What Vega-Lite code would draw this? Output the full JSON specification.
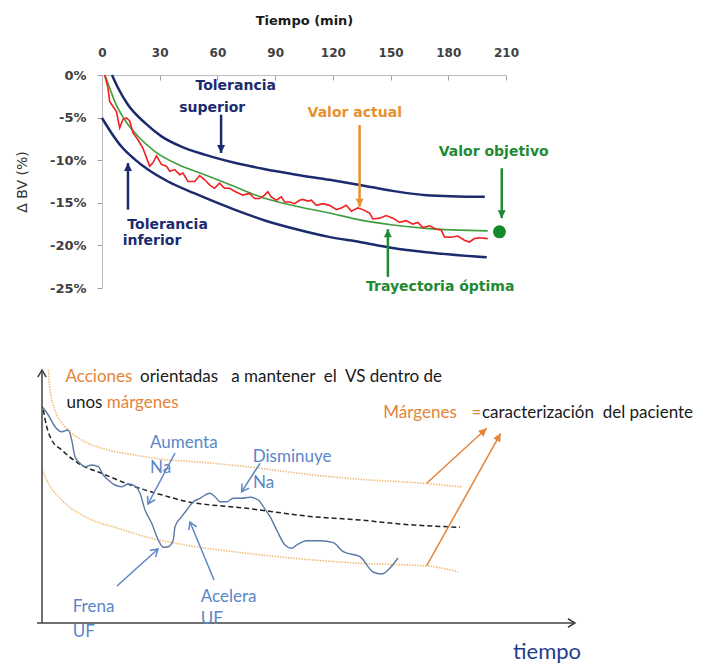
{
  "$schema": "https://vega.github.io/schema/vega-lite/v6.json",
  "background": "white",
  "padding": {"left": 15, "top": 14, "right": 0, "bottom": 0},
  "spacing": 71,
  "config": {"view": {"stroke": null}},
  "resolve": {"scale": {"color": "independent", "shape": "independent"}},
  "datasets": {
    "curvas": [
      {"serie": "Tolerancia superior", "t": 5.2, "v": 0},
      {"serie": "Tolerancia superior", "t": 8.3, "v": -1.5},
      {"serie": "Tolerancia superior", "t": 13.5, "v": -3.5},
      {"serie": "Tolerancia superior", "t": 22.2, "v": -5.6},
      {"serie": "Tolerancia superior", "t": 30.9, "v": -7.2},
      {"serie": "Tolerancia superior", "t": 41.2, "v": -8.4},
      {"serie": "Tolerancia superior", "t": 53.4, "v": -9.35},
      {"serie": "Tolerancia superior", "t": 68.9, "v": -10.3},
      {"serie": "Tolerancia superior", "t": 83.6, "v": -11.0},
      {"serie": "Tolerancia superior", "t": 101, "v": -11.7},
      {"serie": "Tolerancia superior", "t": 118.3, "v": -12.3},
      {"serie": "Tolerancia superior", "t": 134, "v": -12.9},
      {"serie": "Tolerancia superior", "t": 151, "v": -13.6},
      {"serie": "Tolerancia superior", "t": 168.5, "v": -14.1},
      {"serie": "Tolerancia superior", "t": 199, "v": -14.3},
      {"serie": "Tolerancia inferior", "t": 0, "v": -5.05},
      {"serie": "Tolerancia inferior", "t": 4.9, "v": -6.8},
      {"serie": "Tolerancia inferior", "t": 10.1, "v": -8.4},
      {"serie": "Tolerancia inferior", "t": 17, "v": -9.9},
      {"serie": "Tolerancia inferior", "t": 23.9, "v": -11.1},
      {"serie": "Tolerancia inferior", "t": 34.3, "v": -12.5},
      {"serie": "Tolerancia inferior", "t": 48.2, "v": -13.9},
      {"serie": "Tolerancia inferior", "t": 68.9, "v": -15.8},
      {"serie": "Tolerancia inferior", "t": 85, "v": -17.1},
      {"serie": "Tolerancia inferior", "t": 101, "v": -18.1},
      {"serie": "Tolerancia inferior", "t": 118, "v": -19.0},
      {"serie": "Tolerancia inferior", "t": 134, "v": -19.6},
      {"serie": "Tolerancia inferior", "t": 151, "v": -20.3},
      {"serie": "Tolerancia inferior", "t": 168.5, "v": -20.8},
      {"serie": "Tolerancia inferior", "t": 200, "v": -21.4},
      {"serie": "Trayectoria óptima", "t": 1.5, "v": 0},
      {"serie": "Trayectoria óptima", "t": 4.0, "v": -1.53},
      {"serie": "Trayectoria óptima", "t": 6.6, "v": -3.09},
      {"serie": "Trayectoria óptima", "t": 11.8, "v": -5.25},
      {"serie": "Trayectoria óptima", "t": 18.7, "v": -7.19},
      {"serie": "Trayectoria óptima", "t": 27.4, "v": -8.96},
      {"serie": "Trayectoria óptima", "t": 39.5, "v": -10.5},
      {"serie": "Trayectoria óptima", "t": 53.4, "v": -11.7},
      {"serie": "Trayectoria óptima", "t": 68.9, "v": -13.1},
      {"serie": "Trayectoria óptima", "t": 83.6, "v": -14.4},
      {"serie": "Trayectoria óptima", "t": 101, "v": -15.4},
      {"serie": "Trayectoria óptima", "t": 118.3, "v": -16.2},
      {"serie": "Trayectoria óptima", "t": 133.9, "v": -17.0},
      {"serie": "Trayectoria óptima", "t": 151.2, "v": -17.6},
      {"serie": "Trayectoria óptima", "t": 168.5, "v": -18.0},
      {"serie": "Trayectoria óptima", "t": 200.5, "v": -18.3},
      {"serie": "Valor actual", "t": 1.4, "v": 0},
      {"serie": "Valor actual", "t": 3.1, "v": -1.5},
      {"serie": "Valor actual", "t": 4.0, "v": -3.1},
      {"serie": "Valor actual", "t": 5.7, "v": -3.7},
      {"serie": "Valor actual", "t": 7.5, "v": -4.3},
      {"serie": "Valor actual", "t": 9.2, "v": -6.2},
      {"serie": "Valor actual", "t": 10.9, "v": -5.2},
      {"serie": "Valor actual", "t": 12.7, "v": -5.05},
      {"serie": "Valor actual", "t": 14.4, "v": -5.4},
      {"serie": "Valor actual", "t": 16.1, "v": -6.8},
      {"serie": "Valor actual", "t": 18.7, "v": -7.6},
      {"serie": "Valor actual", "t": 21.3, "v": -8.6},
      {"serie": "Valor actual", "t": 23.1, "v": -9.7},
      {"serie": "Valor actual", "t": 24.8, "v": -10.7},
      {"serie": "Valor actual", "t": 26.5, "v": -10.3},
      {"serie": "Valor actual", "t": 28.3, "v": -9.5},
      {"serie": "Valor actual", "t": 30.9, "v": -10.5},
      {"serie": "Valor actual", "t": 33.5, "v": -10.7},
      {"serie": "Valor actual", "t": 35.2, "v": -11.3},
      {"serie": "Valor actual", "t": 37.8, "v": -11.1},
      {"serie": "Valor actual", "t": 40.4, "v": -11.7},
      {"serie": "Valor actual", "t": 42.1, "v": -11.5},
      {"serie": "Valor actual", "t": 44.7, "v": -12.5},
      {"serie": "Valor actual", "t": 48.2, "v": -12.5},
      {"serie": "Valor actual", "t": 50.8, "v": -11.8},
      {"serie": "Valor actual", "t": 53.4, "v": -12.3},
      {"serie": "Valor actual", "t": 55.9, "v": -12.9},
      {"serie": "Valor actual", "t": 58.5, "v": -13.3},
      {"serie": "Valor actual", "t": 61.1, "v": -12.7},
      {"serie": "Valor actual", "t": 63.7, "v": -13.3},
      {"serie": "Valor actual", "t": 66.3, "v": -13.3},
      {"serie": "Valor actual", "t": 68.9, "v": -13.65},
      {"serie": "Valor actual", "t": 73.2, "v": -14.1},
      {"serie": "Valor actual", "t": 76.7, "v": -13.9},
      {"serie": "Valor actual", "t": 79.3, "v": -14.5},
      {"serie": "Valor actual", "t": 81.9, "v": -14.5},
      {"serie": "Valor actual", "t": 84.5, "v": -14.1},
      {"serie": "Valor actual", "t": 86.2, "v": -13.7},
      {"serie": "Valor actual", "t": 88.0, "v": -14.3},
      {"serie": "Valor actual", "t": 90.6, "v": -14.7},
      {"serie": "Valor actual", "t": 93.2, "v": -14.3},
      {"serie": "Valor actual", "t": 94.9, "v": -14.9},
      {"serie": "Valor actual", "t": 97.5, "v": -14.9},
      {"serie": "Valor actual", "t": 100.1, "v": -15.1},
      {"serie": "Valor actual", "t": 102.7, "v": -14.7},
      {"serie": "Valor actual", "t": 104.4, "v": -14.6},
      {"serie": "Valor actual", "t": 107.0, "v": -14.8},
      {"serie": "Valor actual", "t": 108.8, "v": -14.7},
      {"serie": "Valor actual", "t": 111.4, "v": -15.3},
      {"serie": "Valor actual", "t": 114.8, "v": -15.1},
      {"serie": "Valor actual", "t": 118.3, "v": -15.3},
      {"serie": "Valor actual", "t": 121.8, "v": -15.8},
      {"serie": "Valor actual", "t": 124.4, "v": -15.6},
      {"serie": "Valor actual", "t": 127.0, "v": -15.3},
      {"serie": "Valor actual", "t": 129.6, "v": -16.0},
      {"serie": "Valor actual", "t": 133.0, "v": -15.6},
      {"serie": "Valor actual", "t": 135.6, "v": -15.8},
      {"serie": "Valor actual", "t": 139.1, "v": -16.2},
      {"serie": "Valor actual", "t": 140.8, "v": -16.9},
      {"serie": "Valor actual", "t": 144.3, "v": -16.8},
      {"serie": "Valor actual", "t": 147.7, "v": -16.5},
      {"serie": "Valor actual", "t": 151.2, "v": -16.8},
      {"serie": "Valor actual", "t": 154.7, "v": -17.3},
      {"serie": "Valor actual", "t": 158.1, "v": -17.1},
      {"serie": "Valor actual", "t": 161.6, "v": -17.5},
      {"serie": "Valor actual", "t": 164.2, "v": -17.3},
      {"serie": "Valor actual", "t": 166.8, "v": -17.9},
      {"serie": "Valor actual", "t": 170.3, "v": -17.7},
      {"serie": "Valor actual", "t": 173.7, "v": -18.1},
      {"serie": "Valor actual", "t": 176.3, "v": -18.2},
      {"serie": "Valor actual", "t": 178.0, "v": -19.0},
      {"serie": "Valor actual", "t": 181.5, "v": -19.05},
      {"serie": "Valor actual", "t": 184.9, "v": -18.9},
      {"serie": "Valor actual", "t": 188.4, "v": -19.4},
      {"serie": "Valor actual", "t": 191.0, "v": -19.6},
      {"serie": "Valor actual", "t": 193.6, "v": -19.2},
      {"serie": "Valor actual", "t": 196.2, "v": -19.1},
      {"serie": "Valor actual", "t": 200.5, "v": -19.2}
    ],
    "notas": [
      {"texto": "Tolerancia", "t": 69.5, "v": -1.33, "grupo": "tolerancia"},
      {"texto": "superior", "t": 57.3, "v": -3.87, "grupo": "tolerancia"},
      {"texto": "Tolerancia", "t": 34.1, "v": -17.6, "grupo": "tolerancia"},
      {"texto": "inferior", "t": 26.0, "v": -19.5, "grupo": "tolerancia"},
      {"texto": "Valor actual", "t": 131.4, "v": -4.5, "grupo": "actual"},
      {"texto": "Valor objetivo", "t": 203.6, "v": -9.0, "grupo": "objetivo"},
      {"texto": "Trayectoria óptima", "t": 175.8, "v": -24.85, "grupo": "objetivo"}
    ],
    "flechas": [
      {"grupo": "tolerancia", "dir": "abajo", "t": 61.9, "v": -4.66, "v2": -9.15},
      {"grupo": "tolerancia", "dir": "arriba", "t": 13.5, "v": -15.8, "v2": -10.33},
      {"grupo": "actual", "dir": "abajo", "t": 133.9, "v": -5.87, "v2": -15.46},
      {"grupo": "objetivo", "dir": "abajo", "t": 207.8, "v": -10.95, "v2": -16.8},
      {"grupo": "objetivo", "dir": "arriba", "t": 148.6, "v": -23.7, "v2": -18.1}
    ],
    "objetivo": [{"t": 206.6, "v": -18.4}],
    "bcurvas": [
      {"serie": "Margen superior", "x": 6.3, "y": 253},
      {"serie": "Margen superior", "x": 8, "y": 233},
      {"serie": "Margen superior", "x": 13, "y": 213},
      {"serie": "Margen superior", "x": 23, "y": 196.3},
      {"serie": "Margen superior", "x": 39.7, "y": 183},
      {"serie": "Margen superior", "x": 66.3, "y": 173},
      {"serie": "Margen superior", "x": 93, "y": 168},
      {"serie": "Margen superior", "x": 126.3, "y": 163},
      {"serie": "Margen superior", "x": 143, "y": 162},
      {"serie": "Margen superior", "x": 204.7, "y": 156.3},
      {"serie": "Margen superior", "x": 271.3, "y": 148},
      {"serie": "Margen superior", "x": 318, "y": 143.7},
      {"serie": "Margen superior", "x": 378, "y": 140},
      {"serie": "Margen superior", "x": 419.7, "y": 136},
      {"serie": "Margen inferior", "x": 0.3, "y": 153},
      {"serie": "Margen inferior", "x": 6.3, "y": 139.7},
      {"serie": "Margen inferior", "x": 19.7, "y": 123},
      {"serie": "Margen inferior", "x": 43, "y": 106.3},
      {"serie": "Margen inferior", "x": 76.3, "y": 94.7},
      {"serie": "Margen inferior", "x": 109.7, "y": 84.7},
      {"serie": "Margen inferior", "x": 143, "y": 78},
      {"serie": "Margen inferior", "x": 204.7, "y": 69.7},
      {"serie": "Margen inferior", "x": 271.3, "y": 63},
      {"serie": "Margen inferior", "x": 318, "y": 59.7},
      {"serie": "Margen inferior", "x": 384.7, "y": 57},
      {"serie": "Margen inferior", "x": 416.3, "y": 51.3},
      {"serie": "Trayectoria", "x": 1.3, "y": 213},
      {"serie": "Trayectoria", "x": 4.7, "y": 196.3},
      {"serie": "Trayectoria", "x": 9.7, "y": 183},
      {"serie": "Trayectoria", "x": 19.7, "y": 173},
      {"serie": "Trayectoria", "x": 36.3, "y": 159.7},
      {"serie": "Trayectoria", "x": 59.7, "y": 149.7},
      {"serie": "Trayectoria", "x": 93, "y": 136.3},
      {"serie": "Trayectoria", "x": 126.3, "y": 126.3},
      {"serie": "Trayectoria", "x": 140, "y": 122.5},
      {"serie": "Trayectoria", "x": 204.7, "y": 114.7},
      {"serie": "Trayectoria", "x": 271.3, "y": 106.3},
      {"serie": "Trayectoria", "x": 318, "y": 103},
      {"serie": "Trayectoria", "x": 358, "y": 99},
      {"serie": "Trayectoria", "x": 418, "y": 95.7},
      {"serie": "VS", "x": 0.3, "y": 216.3},
      {"serie": "VS", "x": 6.3, "y": 208},
      {"serie": "VS", "x": 13, "y": 196.3},
      {"serie": "VS", "x": 19.7, "y": 191.3},
      {"serie": "VS", "x": 26.3, "y": 193},
      {"serie": "VS", "x": 29.7, "y": 183},
      {"serie": "VS", "x": 33, "y": 166.3},
      {"serie": "VS", "x": 38, "y": 159.7},
      {"serie": "VS", "x": 43, "y": 156.3},
      {"serie": "VS", "x": 49.7, "y": 158},
      {"serie": "VS", "x": 56.3, "y": 156.3},
      {"serie": "VS", "x": 61.3, "y": 148},
      {"serie": "VS", "x": 66.3, "y": 143},
      {"serie": "VS", "x": 73, "y": 138},
      {"serie": "VS", "x": 79.7, "y": 136.3},
      {"serie": "VS", "x": 86.3, "y": 139},
      {"serie": "VS", "x": 93, "y": 137},
      {"serie": "VS", "x": 98, "y": 129.7},
      {"serie": "VS", "x": 103, "y": 113},
      {"serie": "VS", "x": 109.7, "y": 99.7},
      {"serie": "VS", "x": 116.3, "y": 83},
      {"serie": "VS", "x": 121.3, "y": 75.7},
      {"serie": "VS", "x": 126.3, "y": 76.3},
      {"serie": "VS", "x": 131.3, "y": 83},
      {"serie": "VS", "x": 133, "y": 96.3},
      {"serie": "VS", "x": 139.7, "y": 106.3},
      {"serie": "VS", "x": 144.7, "y": 113},
      {"serie": "VS", "x": 151.3, "y": 121.3},
      {"serie": "VS", "x": 158, "y": 124.7},
      {"serie": "VS", "x": 168, "y": 129.7},
      {"serie": "VS", "x": 173, "y": 126.3},
      {"serie": "VS", "x": 178, "y": 121.3},
      {"serie": "VS", "x": 184.7, "y": 121.3},
      {"serie": "VS", "x": 191.3, "y": 124.7},
      {"serie": "VS", "x": 199.7, "y": 124.7},
      {"serie": "VS", "x": 208, "y": 125.7},
      {"serie": "VS", "x": 216.3, "y": 123},
      {"serie": "VS", "x": 221.3, "y": 116.3},
      {"serie": "VS", "x": 228, "y": 106.3},
      {"serie": "VS", "x": 234.7, "y": 93},
      {"serie": "VS", "x": 243, "y": 78},
      {"serie": "VS", "x": 249.7, "y": 74.7},
      {"serie": "VS", "x": 254.7, "y": 78},
      {"serie": "VS", "x": 264.7, "y": 82.3},
      {"serie": "VS", "x": 278, "y": 82.3},
      {"serie": "VS", "x": 291.3, "y": 80.3},
      {"serie": "VS", "x": 301.3, "y": 71.3},
      {"serie": "VS", "x": 318, "y": 66.3},
      {"serie": "VS", "x": 331, "y": 51},
      {"serie": "VS", "x": 339.7, "y": 49},
      {"serie": "VS", "x": 348, "y": 55},
      {"serie": "VS", "x": 356, "y": 65}
    ],
    "btextos": [
      {"texto": "Acciones", "x": 23.5, "y": 246.3, "grupo": "enfasis"},
      {"texto": "orientadas\u00a0\u00a0\u00a0a mantener\u00a0\u00a0el\u00a0\u00a0VS\u00a0dentro\u00a0de", "x": 98, "y": 246.3, "grupo": "texto"},
      {"texto": "unos", "x": 24.5, "y": 220.3, "grupo": "texto"},
      {"texto": "márgenes", "x": 64.7, "y": 220.3, "grupo": "enfasis"},
      {"texto": "Márgenes", "x": 341.3, "y": 210.3, "grupo": "enfasis"},
      {"texto": "=", "x": 429.5, "y": 210.3, "grupo": "enfasis"},
      {"texto": "caracterización\u00a0\u00a0del\u00a0paciente", "x": 440, "y": 210.3, "grupo": "texto"},
      {"texto": "Aumenta", "x": 108, "y": 179.7, "grupo": "accion"},
      {"texto": "Na", "x": 108, "y": 154.7, "grupo": "accion"},
      {"texto": "Disminuye", "x": 210.7, "y": 165.7, "grupo": "accion"},
      {"texto": "Na", "x": 211, "y": 140.3, "grupo": "accion"},
      {"texto": "Frena", "x": 30.7, "y": 16.3, "grupo": "accion"},
      {"texto": "UF", "x": 30.7, "y": -8.7, "grupo": "accion"},
      {"texto": "Acelera", "x": 158.7, "y": 26.3, "grupo": "accion"},
      {"texto": "UF", "x": 158.7, "y": 3.7, "grupo": "accion"},
      {"texto": "tiempo", "x": 505, "y": -29, "grupo": "tiempo"}
    ],
    "bflechas": [
      {"grupo": "eje", "x": 0, "y": 0, "x2": 0, "y2": 253},
      {"grupo": "eje", "x": -5, "y": 0, "x2": 533, "y2": 0},
      {"grupo": "accion", "x": 133, "y": 170, "x2": 106, "y2": 119},
      {"grupo": "accion", "x": 218, "y": 159.7, "x2": 199.7, "y2": 131.3},
      {"grupo": "accion", "x": 75, "y": 37, "x2": 116, "y2": 74},
      {"grupo": "accion", "x": 172, "y": 43, "x2": 148, "y2": 101},
      {"grupo": "enfasis", "x": 384.7, "y": 139.7, "x2": 444.7, "y2": 194.7},
      {"grupo": "enfasis", "x": 384.7, "y": 57.3, "x2": 458.7, "y2": 189.7}
    ]
  },
  "vconcat": [
    {
      "width": 404,
      "height": 213,
      "layer": [
        {
          "data": {"name": "curvas"},
          "transform": [{"filter": "datum.serie === 'Tolerancia superior' || datum.serie === 'Tolerancia inferior'"}],
          "mark": {"type": "line", "interpolate": "monotone", "strokeWidth": 2.5, "color": "#1c2a6e"},
          "encoding": {
            "x": {
              "field": "t", "type": "quantitative",
              "scale": {"domain": [0, 210], "nice": false, "zero": false},
              "axis": {
                "orient": "top", "title": "Tiempo (min)", "values": [0, 30, 60, 90, 120, 150, 180, 210],
                "grid": false, "domainColor": "#bdbdbd", "tickColor": "#a0a0a0", "tickSize": -5, "labelFlush": false,
                "labelPadding": 21, "labelFont": "DejaVu Sans", "labelFontWeight": "bold", "labelFontSize": 12,
                "labelColor": "#404040", "titleFont": "DejaVu Sans", "titleFontWeight": "bold", "titleFontSize": 13,
                "titleColor": "#1a1a1a", "titlePadding": 19
              }
            },
            "y": {
              "field": "v", "type": "quantitative",
              "scale": {"domain": [-25, 0], "nice": false, "zero": false},
              "axis": {
                "title": "Δ BV (%)", "values": [0, -5, -10, -15, -20, -25], "labelExpr": "datum.value + '%'",
                "grid": false, "domainColor": "#bdbdbd", "tickColor": "#a0a0a0", "tickSize": 5, "labelPadding": 11,
                "labelFlush": false,
                "labelFont": "DejaVu Sans", "labelFontWeight": "bold", "labelFontSize": 13, "labelColor": "#404040",
                "titleFont": "DejaVu Sans", "titleFontWeight": "normal", "titleFontSize": 14, "titleColor": "#333333",
                "titlePadding": 20
              }
            },
            "detail": {"field": "serie", "type": "nominal"}
          }
        },
        {
          "data": {"name": "curvas"},
          "transform": [{"filter": "datum.serie === 'Trayectoria óptima'"}],
          "mark": {"type": "line", "interpolate": "monotone", "strokeWidth": 1.6, "color": "#3f9f3f"},
          "encoding": {
            "x": {"field": "t", "type": "quantitative"},
            "y": {"field": "v", "type": "quantitative"}
          }
        },
        {
          "data": {"name": "curvas"},
          "transform": [{"filter": "datum.serie === 'Valor actual'"}],
          "mark": {"type": "line", "strokeWidth": 1.6, "color": "#f02020"},
          "encoding": {
            "x": {"field": "t", "type": "quantitative"},
            "y": {"field": "v", "type": "quantitative"}
          }
        },
        {
          "data": {"name": "flechas"},
          "mark": {"type": "rule", "strokeWidth": 2.5},
          "encoding": {
            "x": {"field": "t", "type": "quantitative"},
            "y": {"field": "v", "type": "quantitative"},
            "y2": {"field": "v2"},
            "color": {"field": "grupo", "type": "nominal", "scale": {"domain": ["tolerancia", "actual", "objetivo"], "range": ["#1c2a6e", "#e8902f", "#1e8a33"]}, "legend": null}
          }
        },
        {
          "data": {"name": "flechas"},
          "mark": {"type": "point", "filled": true, "opacity": 1, "size": 64},
          "encoding": {
            "x": {"field": "t", "type": "quantitative"},
            "y": {"field": "v2", "type": "quantitative"},
            "shape": {"field": "dir", "type": "nominal", "scale": {"domain": ["abajo", "arriba"], "range": ["M0,0L-1,-2L1,-2Z", "M0,0L-1,2L1,2Z"]}, "legend": null},
            "color": {"field": "grupo", "type": "nominal", "legend": null}
          }
        },
        {
          "data": {"name": "objetivo"},
          "mark": {"type": "point", "filled": true, "opacity": 1, "size": 170, "shape": "circle", "color": "#138a2e"},
          "encoding": {
            "x": {"field": "t", "type": "quantitative"},
            "y": {"field": "v", "type": "quantitative"}
          }
        },
        {
          "data": {"name": "notas"},
          "mark": {"type": "text", "font": "DejaVu Sans", "fontWeight": "bold", "fontSize": 14, "align": "center", "baseline": "middle"},
          "encoding": {
            "x": {"field": "t", "type": "quantitative"},
            "y": {"field": "v", "type": "quantitative"},
            "text": {"field": "texto"},
            "color": {"field": "grupo", "type": "nominal", "legend": null}
          }
        }
      ]
    },
    {
      "width": 475,
      "height": 255,
      "layer": [
        {
          "data": {"name": "bcurvas"},
          "transform": [{"filter": "datum.serie === 'Margen superior' || datum.serie === 'Margen inferior'"}],
          "mark": {"type": "line", "interpolate": "monotone", "strokeWidth": 1.6, "strokeDash": [1.5, 1.2], "color": "#f1be77"},
          "encoding": {
            "x": {"field": "x", "type": "quantitative", "scale": {"domain": [60, 535], "nice": false, "zero": false}, "axis": null},
            "y": {"field": "y", "type": "quantitative", "scale": {"domain": [0, 255], "nice": false, "zero": false}, "axis": null},
            "detail": {"field": "serie", "type": "nominal"}
          }
        },
        {
          "data": {"name": "bcurvas"},
          "transform": [{"filter": "datum.serie === 'Trayectoria'"}],
          "mark": {"type": "line", "interpolate": "monotone", "strokeWidth": 1.5, "strokeDash": [5, 3], "color": "#222222"},
          "encoding": {
            "x": {"field": "x", "type": "quantitative"},
            "y": {"field": "y", "type": "quantitative"}
          }
        },
        {
          "data": {"name": "bcurvas"},
          "transform": [{"filter": "datum.serie === 'VS'"}],
          "mark": {"type": "line", "interpolate": "monotone", "strokeWidth": 1.4, "color": "#5b78a6"},
          "encoding": {
            "x": {"field": "x", "type": "quantitative"},
            "y": {"field": "y", "type": "quantitative"}
          }
        },
        {
          "data": {"name": "bflechas"},
          "mark": {"type": "rule", "strokeWidth": 1.5},
          "encoding": {
            "x": {"field": "x", "type": "quantitative"},
            "y": {"field": "y", "type": "quantitative"},
            "x2": {"field": "x2"},
            "y2": {"field": "y2"},
            "color": {"field": "grupo", "type": "nominal", "scale": {"domain": ["enfasis", "texto", "accion", "eje", "tiempo"], "range": ["#e3843b", "#1a1a1a", "#5a86c8", "#404040", "#1f3d8f"]}, "legend": null}
          }
        },
        {
          "data": {"name": "bflechas"},
          "transform": [
            {"filter": "datum.grupo !== 'enfasis'"},
            {"calculate": "atan2(-(datum.y2 - datum.y), datum.x2 - datum.x) * 180 / PI", "as": "ang"}
          ],
          "mark": {"type": "point", "filled": false, "opacity": 1, "size": 200, "strokeWidth": 1.5, "shape": "M-1,-0.6L0,0L-1,0.6"},
          "encoding": {
            "x": {"field": "x2", "type": "quantitative"},
            "y": {"field": "y2", "type": "quantitative"},
            "angle": {"field": "ang", "type": "quantitative", "scale": null},
            "color": {"field": "grupo", "type": "nominal", "legend": null}
          }
        },
        {
          "data": {"name": "bflechas"},
          "transform": [
            {"filter": "datum.grupo === 'enfasis'"},
            {"calculate": "atan2(-(datum.y2 - datum.y), datum.x2 - datum.x) * 180 / PI", "as": "ang"}
          ],
          "mark": {"type": "point", "filled": true, "opacity": 1, "size": 64, "shape": "M0,0L-2,-1L-2,1Z"},
          "encoding": {
            "x": {"field": "x2", "type": "quantitative"},
            "y": {"field": "y2", "type": "quantitative"},
            "angle": {"field": "ang", "type": "quantitative", "scale": null},
            "color": {"field": "grupo", "type": "nominal", "legend": null}
          }
        },
        {
          "data": {"name": "btextos"},
          "transform": [{"filter": "datum.grupo !== 'tiempo'"}],
          "mark": {"type": "text", "font": "Lato", "fontSize": 17, "align": "left", "baseline": "middle"},
          "encoding": {
            "x": {"field": "x", "type": "quantitative"},
            "y": {"field": "y", "type": "quantitative"},
            "text": {"field": "texto"},
            "color": {"field": "grupo", "type": "nominal", "legend": null}
          }
        },
        {
          "data": {"name": "btextos"},
          "transform": [{"filter": "datum.grupo === 'tiempo'"}],
          "mark": {"type": "text", "font": "Lato", "fontSize": 22, "align": "center", "baseline": "middle"},
          "encoding": {
            "x": {"field": "x", "type": "quantitative"},
            "y": {"field": "y", "type": "quantitative"},
            "text": {"field": "texto"},
            "color": {"field": "grupo", "type": "nominal", "legend": null}
          }
        }
      ]
    }
  ]
}
